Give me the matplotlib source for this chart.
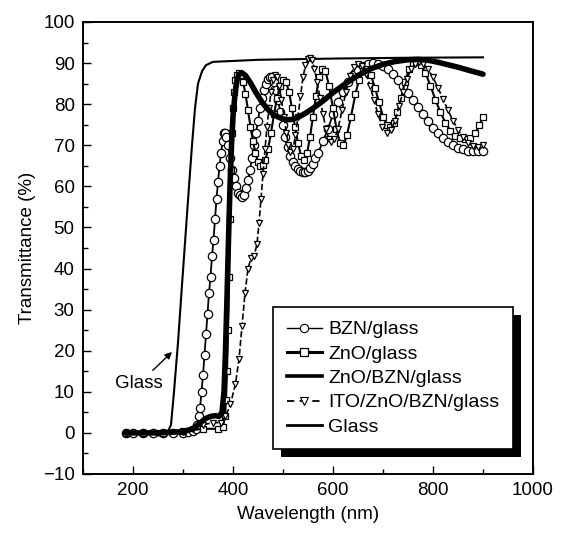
import matplotlib
matplotlib.use("Agg")
import matplotlib.pyplot as plt
from matplotlib.lines import Line2D
from matplotlib.patches import Rectangle
from matplotlib.transforms import IdentityTransform
from matplotlib.ticker import MultipleLocator

plt.rcParams['font.family'] = ['Liberation Sans', 'DejaVu Sans']

# ---------------- data ----------------
glass_wl = [185, 260, 270, 276, 282, 290, 298, 305, 312, 318, 324, 330, 338, 346, 360, 450, 600, 750, 900]
glass_t  = [0, 0, 0.3, 2, 10, 22, 36, 48, 60, 70, 79, 85, 88, 89.5, 90.3, 90.8, 91.1, 91.3, 91.4]

bzn_wl = [185, 200, 220, 240, 260, 280, 300, 310, 320, 325, 328, 331, 334, 337, 340, 343, 346, 349, 352, 355,
          358, 361, 364, 367, 370, 373, 376, 379, 381, 384, 387, 390, 394, 398, 402, 406, 410, 414, 418,
          422, 426, 430, 434, 438, 442, 446, 450, 454, 458, 462, 466, 470, 474, 478, 482, 486, 490,
          495, 500, 505, 510, 515, 520, 525, 530, 535, 540, 545, 550, 555, 560, 565, 570, 580, 590,
          600, 610, 620, 630, 640, 650, 660, 670, 680, 690, 700, 710, 720, 730, 740, 750, 760, 770,
          780, 790, 800, 810, 820, 830, 840, 850, 860, 870, 880, 890, 900]
bzn_t  = [0, 0, 0, 0, 0, 0, 0, 0.2, 0.5, 1, 2, 4, 6, 10, 14, 19, 24, 29, 34, 38,
          43, 47, 52, 57, 61, 65, 68, 71, 73, 73, 72, 70, 67, 64, 62, 60, 58.5, 57.8, 57.5,
          58, 59.5, 61.5, 64, 67, 70, 73, 76, 79, 81.5, 83.5, 85, 86.2, 86.7, 86.5, 85.5, 83.5, 81,
          78, 75, 72, 69.5, 67.5, 66, 65, 64.3, 63.8, 63.5, 63.5, 63.8, 64.5, 65.5, 66.8, 68, 71, 74,
          77.5, 80.5, 83, 85.3, 87, 88.3, 89.2, 89.8, 90, 89.8, 89.3, 88.5, 87.3, 86, 84.5, 82.8, 81, 79.2,
          77.5, 75.8, 74.3, 73, 71.8, 70.8, 70, 69.4, 69, 68.7, 68.5, 68.5, 68.6]

zno_wl = [185, 220, 260, 300, 340, 370, 380, 384, 386, 388, 390, 392, 394, 396, 398, 400, 402, 405, 408, 412,
          416, 420, 425, 430, 435, 440, 445, 450, 455, 460, 465, 470, 476, 482, 488, 494, 500, 506, 512,
          518, 524, 530, 536, 542, 548, 554, 560, 566, 572, 578, 585, 592, 600, 607, 614, 621, 628, 636,
          645, 652, 660, 668, 676, 684, 692, 700, 708, 715, 722, 729, 736, 744, 752, 760, 768, 776,
          785, 795, 805, 815, 825, 835, 845, 855, 865, 875, 885, 893, 900]
zno_t  = [0, 0, 0, 0.5, 1, 1, 1.5, 4, 8, 15, 25, 38, 52, 64, 73, 79, 83, 86, 87.2, 87.6,
          87, 85.5, 82.5, 78.5, 74.5, 71, 68, 66, 65, 65.2, 66.5, 69, 73, 77.5, 81.5, 84.5, 86, 85.5, 83,
          79, 74.5, 70.5, 67.5, 66.5, 68, 72, 77, 82, 86.5, 88.5, 88, 84.5, 79, 74, 70.5, 70, 72.5, 77,
          82.5, 86, 88, 88.5, 87, 84, 80.5, 77, 75, 74.5, 75.5, 78, 81.5, 85.5, 88.5, 90, 90.2, 89.5,
          87.5, 84.5, 81, 78, 75.5, 73.5, 72.3, 71.7, 71.5, 71.8, 73, 75, 77]

zb_wl = [185, 250, 300, 320, 335, 345, 355, 365, 372, 378, 382, 385, 388, 391, 394, 397, 400, 404, 408, 412,
         418, 425, 435, 445, 458, 470, 480, 490, 500, 508, 518, 530, 545, 560, 580, 600, 625, 650, 675,
         700, 725, 750, 770, 790, 810, 830, 850, 870, 885, 900]
zb_t  = [0, 0, 0.3, 1, 2.5, 3.5, 4, 4.2, 4, 5, 10, 20, 33, 47, 60, 70, 77, 82.5, 85.8, 87.3,
         87.6, 87, 85.2, 83, 80.5, 78.7, 77.6, 76.9, 76.4, 76.2, 76.3, 76.8, 77.8, 79, 80.8, 82.8, 85, 87, 88.6,
         89.7, 90.4, 90.8, 90.9, 90.7, 90.2, 89.6, 89, 88.3, 87.8, 87.3]

ito_wl = [185, 250, 300, 320, 340, 360, 375, 385, 395, 405, 412, 418, 424, 430, 436, 442, 448, 452, 456, 460,
          464, 468, 472, 476, 480, 484, 488, 492, 497, 502, 507, 511, 515, 520, 525, 530, 535, 540, 545,
          550, 554, 558, 563, 568, 574, 580, 586, 592, 597, 603, 610, 618, 626, 634, 642, 650, 658, 666,
          674, 682, 690, 699, 708, 716, 724, 732, 740, 748, 756, 764, 772, 780, 790, 800, 810, 820,
          830, 840, 850, 860, 870, 880, 890, 900]
ito_t  = [0, 0, 0.3, 1, 2, 2.5, 2.5, 4, 7, 12, 18, 26, 34, 40, 42.5, 43, 46, 51, 57, 63,
          69, 74.5, 79, 83, 85.8, 87, 86.5, 84.5, 81, 77, 73, 70, 68.3, 69, 72.5, 77, 82, 86.5, 89.5,
          91, 91.3, 90.8, 88.5, 85.5, 81.5, 77.5, 74, 71.5, 70.8, 71.5, 74, 78.5, 83, 86.8, 89, 89.8, 89.2, 87.3,
          84.5, 81, 77.5, 74.5, 73, 73.8, 76, 79.5, 83, 86.2, 88.5, 89.8, 90.2, 89.8, 88.5, 86.5, 84, 81.3,
          78.5, 76, 73.8, 72, 70.6, 69.8, 69.6, 70]

labels = ['BZN/glass', 'ZnO/glass', 'ZnO/BZN/glass', 'ITO/ZnO/BZN/glass', 'Glass']
x_ticks = [200, 400, 600, 800, 1000]
y_ticks = [-10, 0, 10, 20, 30, 40, 50, 60, 70, 80, 90, 100]

# ---------------- figure ----------------
fig = plt.figure(figsize=(5.67, 5.33), dpi=100)
ax = fig.add_axes([83/567, 59/533, 450/567, 452/533])

ax.plot(glass_wl, glass_t, color='black', lw=1.5, zorder=3)
ax.plot(bzn_wl, bzn_t, color='black', lw=1.3, marker='o', ms=6, mfc='white', mec='black', mew=0.9, zorder=3)
ax.plot(zno_wl, zno_t, color='black', lw=1.5, marker='s', ms=5, mfc='white', mec='black', mew=0.9, zorder=3)
ax.plot(ito_wl, ito_t, color='black', lw=1.2, ls='--', marker='v', ms=5, mfc='white', mec='black', mew=0.9, zorder=3)
ax.plot(zb_wl, zb_t, color='black', lw=4.0, solid_capstyle='round', zorder=4)

ax.set_xlim(100, 1000)
ax.set_ylim(-10, 100)
ax.set_xticks(x_ticks)
ax.set_yticks(y_ticks)
ax.xaxis.set_minor_locator(MultipleLocator(100))
ax.yaxis.set_minor_locator(MultipleLocator(5))
ax.tick_params(which='both', direction='in', top=False, right=False, labelsize=13.5, width=1.0)
ax.tick_params(which='major', length=6, pad=6)
ax.tick_params(which='minor', length=3.5)
for s in ax.spines.values():
    s.set_linewidth(1.4)

ax.set_xlabel('Wavelength (nm)', fontsize=13.5, labelpad=5)
ax.set_ylabel('Transmittance (%)', fontsize=13.5, labelpad=5)

ax.annotate('Glass', xy=(278, 19.7), xytext=(212, 12.0), fontsize=13.5, ha='center', va='center',
            arrowprops=dict(arrowstyle='-|>', color='black', lw=1.0, mutation_scale=10, shrinkA=2, shrinkB=0))

handles = [
    Line2D([], [], color='black', lw=1.0, marker='o', ms=6, mfc='white', mec='black', mew=0.8),
    Line2D([], [], color='black', lw=2.2, marker='s', ms=6, mfc='white', mec='black', mew=0.9),
    Line2D([], [], color='black', lw=2.6),
    Line2D([], [], color='black', lw=1.3, ls=(0, (4, 3)), marker='v', ms=6, mfc='white', mec='black', mew=0.8),
    Line2D([], [], color='black', lw=2.0),
]
leg = ax.legend(handles, labels, loc='upper left', bbox_to_anchor=(0.422, 0.369), borderaxespad=0,
                fontsize=14, frameon=True, fancybox=False, handlelength=1.85, handletextpad=0.3,
                labelspacing=0.345, borderpad=0.7, framealpha=1)
leg.get_frame().set_edgecolor('black')
leg.get_frame().set_linewidth(1.2)
leg.set_zorder(10)

fig.canvas.draw()
bb = leg.get_window_extent()
shadow = Rectangle((bb.x0 + 8, bb.y0 - 8), bb.width, bb.height, transform=IdentityTransform(),
                   facecolor='black', edgecolor='none', zorder=9, clip_on=False)
ax.add_patch(shadow)

fig.savefig('out.png', dpi=100)
